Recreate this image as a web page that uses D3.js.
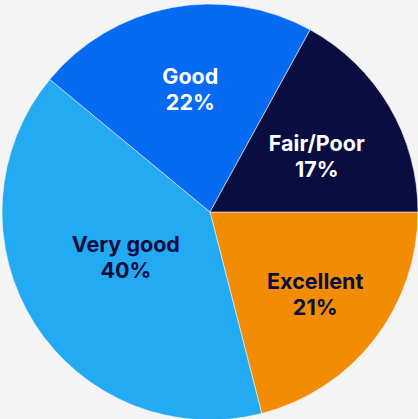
<!DOCTYPE html>
<html>
<head>
<meta charset="utf-8">
<script src="https://cdn.jsdelivr.net/npm/d3@7"></script>
<style>
  html, body { margin: 0; padding: 0; background: #f4f4f4; }
  #chart { width: 418px; height: 419px; }
  text { font-family: Inter, "Noto Sans", sans-serif; font-weight: 700; }
</style>
</head>
<body>
<div id="chart"></div>
<script>
//Datos
const categorias = ['Excellent', 'Very good', 'Good', 'Fair/Poor'];
const valores = [21, 40, 22, 17];

//Colores
const colores = ['#F28C00', '#22AAF2', '#066BF2', '#0A0D40'];
const coloresTexto = ['#0A0D40', '#0A0D40', '#ffffff', '#ffffff'];
//Distancia de las etiquetas al centro (fracción del radio) y pequeño giro
const labelR = [0.64, 0.46, 0.6, 0.58];
const labelGiro = [0, 0.07, 0.03, 0.05];

let width = 418, height = 419;
let cx = 210, cy = 212, radius = 208;

let svg = d3.select('#chart')
    .append('svg')
        .attr('width', width)
        .attr('height', height)
    .append('g')
        .attr('transform', 'translate(' + cx + ',' + cy + ')');

let data = categorias.map(function(c, i) { return { key: c, value: valores[i], i: i }; });

let pie = d3.pie()
    .sort(null)
    .value(function(d) { return d.value; })
    .startAngle(Math.PI / 2)
    .endAngle(Math.PI / 2 + 2 * Math.PI);

let arc = d3.arc().innerRadius(0).outerRadius(radius);

let arcs = pie(data);

svg.selectAll('path')
    .data(arcs)
    .enter()
    .append('path')
    .attr('d', arc)
    .attr('fill', function(d) { return colores[d.data.i]; })
    .attr('stroke', '#f4f4f4')
    .attr('stroke-width', 0.6);

let labels = svg.selectAll('.label')
    .data(arcs)
    .enter()
    .append('text')
    .attr('class', 'label')
    .attr('text-anchor', 'middle')
    .attr('font-size', 21.5)
    .attr('fill', function(d) { return coloresTexto[d.data.i]; })
    .attr('transform', function(d) {
        let r = radius * labelR[d.data.i];
        let a = (d.startAngle + d.endAngle) / 2 + labelGiro[d.data.i];
        return 'translate(' + (Math.sin(a) * r) + ',' + (-Math.cos(a) * r) + ')';
    });

labels.append('tspan')
    .attr('x', 0)
    .attr('y', -5)
    .text(function(d) { return d.data.key; });

labels.append('tspan')
    .attr('x', 0)
    .attr('y', 21)
    .text(function(d) { return d.data.value + '%'; });
</script>
</body>
</html>
